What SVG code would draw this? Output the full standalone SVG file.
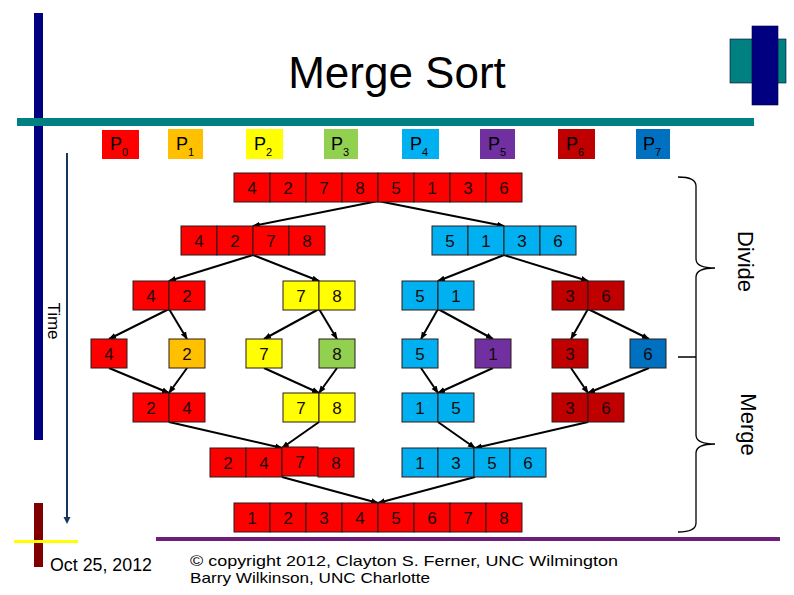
<svg xmlns="http://www.w3.org/2000/svg" width="794" height="595" viewBox="0 0 794 595">
<style>
text{font-family:"Liberation Sans",Arial,sans-serif;fill:#000}
.c{stroke:#2b1a1a;stroke-width:1}
.d{font-size:17px;text-anchor:middle;fill:#1a0a0a}
.r{fill:#FF0000}.o{fill:#FFC000}.y{fill:#FFFF00}.g{fill:#92D050}.lb{fill:#00B0F0}.pu{fill:#7030A0}.dr{fill:#C00000}.bl{fill:#0070C0}
.p{font-size:18px}.s{font-size:11px}
.cn{stroke:#000;stroke-width:2;fill:none;marker-end:url(#ah)}
.br{stroke:#000;stroke-width:1.3;fill:none}
</style>
<defs>
<marker id="ah" markerUnits="userSpaceOnUse" markerWidth="8" markerHeight="8" viewBox="0 0 8 8" refX="7" refY="4" orient="auto">
<path d="M0,1 L8,4 L0,7 Z" fill="#000"/>
</marker>
</defs>
<rect width="794" height="595" fill="#fff"/>
<!-- decorations -->
<g id="decor">
<rect x="34" y="13" width="9" height="427" fill="#000080"/>
<rect x="17" y="118" width="737" height="8" fill="#008080"/>
<rect x="730" y="39" width="56" height="44" fill="#008080" stroke="#003" stroke-width="0.6"/>
<rect x="752" y="26" width="26" height="79" fill="#000080" stroke="#003" stroke-width="0.6"/>
<rect x="34" y="503" width="9" height="64" fill="#800000"/>
<rect x="14" y="540" width="64" height="3" fill="#FFFF00"/>
<rect x="156" y="537" width="624" height="4" fill="#6E1E78"/>
</g>
<text x="397" y="88" font-size="44" text-anchor="middle">Merge Sort</text>
<!-- processor labels -->
<g id="P0"><rect x="102" y="130" width="37" height="29" class="r"/><text x="110" y="150" class="p">P</text><text x="122" y="156" class="s">0</text></g>
<g id="P1"><rect x="168" y="129" width="35" height="30" class="o"/><text x="176" y="150" class="p">P</text><text x="188" y="156" class="s">1</text></g>
<g id="P2"><rect x="246" y="129" width="37" height="30" class="y"/><text x="254" y="150" class="p">P</text><text x="266" y="156" class="s">2</text></g>
<g id="P3"><rect x="324" y="129" width="34" height="30" class="g"/><text x="331" y="150" class="p">P</text><text x="343" y="156" class="s">3</text></g>
<g id="P4"><rect x="402" y="129" width="37" height="30" class="lb"/><text x="410" y="150" class="p">P</text><text x="422" y="156" class="s">4</text></g>
<g id="P5"><rect x="480" y="129" width="35" height="30" class="pu"/><text x="488" y="150" class="p">P</text><text x="500" y="156" class="s">5</text></g>
<g id="P6"><rect x="558" y="129" width="37" height="30" class="dr"/><text x="566" y="150" class="p">P</text><text x="578" y="156" class="s">6</text></g>
<g id="P7"><rect x="636" y="129" width="34" height="30" class="bl"/><text x="643" y="150" class="p">P</text><text x="655" y="156" class="s">7</text></g>
<!-- connectors -->
<g id="connectors">
<line class="cn" x1="378" y1="201" x2="253" y2="226"/>
<line class="cn" x1="378" y1="201" x2="504" y2="226"/>
<line class="cn" x1="253" y1="255" x2="169" y2="281"/>
<line class="cn" x1="253" y1="255" x2="319" y2="281"/>
<line class="cn" x1="504" y1="255" x2="438" y2="281"/>
<line class="cn" x1="504" y1="255" x2="588" y2="281"/>
<line class="cn" x1="169" y1="309" x2="109" y2="339"/>
<line class="cn" x1="169" y1="309" x2="187" y2="339"/>
<line class="cn" x1="319" y1="309" x2="264" y2="339"/>
<line class="cn" x1="319" y1="309" x2="337" y2="339"/>
<line class="cn" x1="438" y1="309" x2="421" y2="339"/>
<line class="cn" x1="438" y1="309" x2="493" y2="339"/>
<line class="cn" x1="588" y1="309" x2="571" y2="339"/>
<line class="cn" x1="588" y1="309" x2="649" y2="339"/>
<line class="cn" x1="109" y1="368" x2="169" y2="393"/>
<line class="cn" x1="187" y1="368" x2="169" y2="393"/>
<line class="cn" x1="264" y1="368" x2="319" y2="393"/>
<line class="cn" x1="337" y1="368" x2="319" y2="393"/>
<line class="cn" x1="421" y1="368" x2="438" y2="393"/>
<line class="cn" x1="493" y1="368" x2="438" y2="393"/>
<line class="cn" x1="571" y1="368" x2="588" y2="393"/>
<line class="cn" x1="649" y1="368" x2="588" y2="393"/>
<line class="cn" x1="169" y1="422" x2="282" y2="448"/>
<line class="cn" x1="319" y1="422" x2="282" y2="448"/>
<line class="cn" x1="438" y1="422" x2="475" y2="448"/>
<line class="cn" x1="588" y1="422" x2="475" y2="448"/>
<line class="cn" x1="282" y1="477" x2="378" y2="503"/>
<line class="cn" x1="475" y1="477" x2="378" y2="503"/>
<line x1="67" y1="153" x2="67" y2="518" stroke="#17365D" stroke-width="2"/>
<path d="M63.5,517 L70.5,517 L67,524 Z" fill="#17365D"/>
</g>
<!-- row 1 -->
<g id="n1">
<rect x="234" y="173" width="36" height="29" class="c r"/><text x="252" y="194" class="d">4</text>
<rect x="270" y="173" width="36" height="29" class="c r"/><text x="288" y="194" class="d">2</text>
<rect x="306" y="173" width="36" height="29" class="c r"/><text x="324" y="194" class="d">7</text>
<rect x="342" y="173" width="36" height="29" class="c r"/><text x="360" y="194" class="d">8</text>
<rect x="378" y="173" width="36" height="29" class="c r"/><text x="396" y="194" class="d">5</text>
<rect x="414" y="173" width="36" height="29" class="c r"/><text x="432" y="194" class="d">1</text>
<rect x="450" y="173" width="36" height="29" class="c r"/><text x="468" y="194" class="d">3</text>
<rect x="486" y="173" width="36" height="29" class="c r"/><text x="504" y="194" class="d">6</text>
</g>
<!-- row 2 -->
<g id="n2a">
<rect x="181" y="226" width="36" height="29" class="c r"/><text x="199" y="247" class="d">4</text>
<rect x="217" y="226" width="36" height="29" class="c r"/><text x="235" y="247" class="d">2</text>
<rect x="253" y="226" width="36" height="29" class="c r"/><text x="271" y="247" class="d">7</text>
<rect x="289" y="226" width="36" height="29" class="c r"/><text x="307" y="247" class="d">8</text>
</g>
<g id="n2b">
<rect x="432" y="226" width="36" height="29" class="c lb"/><text x="450" y="247" class="d">5</text>
<rect x="468" y="226" width="36" height="29" class="c lb"/><text x="486" y="247" class="d">1</text>
<rect x="504" y="226" width="36" height="29" class="c lb"/><text x="522" y="247" class="d">3</text>
<rect x="540" y="226" width="36" height="29" class="c lb"/><text x="558" y="247" class="d">6</text>
</g>
<!-- row 3 -->
<g id="n3a"><rect x="133" y="281" width="36" height="29" class="c r"/><text x="151" y="302" class="d">4</text><rect x="169" y="281" width="36" height="29" class="c r"/><text x="187" y="302" class="d">2</text></g>
<g id="n3b"><rect x="283" y="281" width="36" height="29" class="c y"/><text x="301" y="302" class="d">7</text><rect x="319" y="281" width="36" height="29" class="c y"/><text x="337" y="302" class="d">8</text></g>
<g id="n3c"><rect x="402" y="281" width="36" height="29" class="c lb"/><text x="420" y="302" class="d">5</text><rect x="438" y="281" width="36" height="29" class="c lb"/><text x="456" y="302" class="d">1</text></g>
<g id="n3d"><rect x="552" y="281" width="36" height="29" class="c dr"/><text x="570" y="302" class="d">3</text><rect x="588" y="281" width="36" height="29" class="c dr"/><text x="606" y="302" class="d">6</text></g>
<!-- row 4 -->
<g id="n4a"><rect x="91" y="339" width="36" height="29" class="c r"/><text x="109" y="360" class="d">4</text></g>
<g id="n4b"><rect x="169" y="339" width="36" height="29" class="c o"/><text x="187" y="360" class="d">2</text></g>
<g id="n4c"><rect x="246" y="339" width="36" height="29" class="c y"/><text x="264" y="360" class="d">7</text></g>
<g id="n4d"><rect x="319" y="339" width="36" height="29" class="c g"/><text x="337" y="360" class="d">8</text></g>
<g id="n4e"><rect x="402" y="339" width="36" height="29" class="c lb"/><text x="420" y="360" class="d">5</text></g>
<g id="n4f"><rect x="475" y="339" width="36" height="29" class="c pu"/><text x="493" y="360" class="d">1</text></g>
<g id="n4g"><rect x="552" y="339" width="36" height="29" class="c dr"/><text x="570" y="360" class="d">3</text></g>
<g id="n4h"><rect x="630" y="339" width="36" height="29" class="c bl"/><text x="648" y="360" class="d">6</text></g>
<!-- row 5 -->
<g id="n5a"><rect x="133" y="393" width="36" height="29" class="c r"/><text x="151" y="414" class="d">2</text><rect x="169" y="393" width="36" height="29" class="c r"/><text x="187" y="414" class="d">4</text></g>
<g id="n5b"><rect x="283" y="393" width="36" height="29" class="c y"/><text x="301" y="414" class="d">7</text><rect x="319" y="393" width="36" height="29" class="c y"/><text x="337" y="414" class="d">8</text></g>
<g id="n5c"><rect x="402" y="393" width="36" height="29" class="c lb"/><text x="420" y="414" class="d">1</text><rect x="438" y="393" width="36" height="29" class="c lb"/><text x="456" y="414" class="d">5</text></g>
<g id="n5d"><rect x="552" y="393" width="36" height="29" class="c dr"/><text x="570" y="414" class="d">3</text><rect x="588" y="393" width="36" height="29" class="c dr"/><text x="606" y="414" class="d">6</text></g>
<!-- row 6 -->
<g id="n6a">
<rect x="210" y="448" width="36" height="29" class="c r"/><text x="228" y="469" class="d">2</text>
<rect x="246" y="448" width="36" height="29" class="c r"/><text x="264" y="469" class="d">4</text>
<rect x="282" y="447" width="36" height="29" class="c r"/><text x="300" y="468" class="d">7</text>
<rect x="318" y="448" width="36" height="29" class="c r"/><text x="336" y="469" class="d">8</text>
</g>
<g id="n6b">
<rect x="402" y="448" width="36" height="29" class="c lb"/><text x="420" y="469" class="d">1</text>
<rect x="438" y="448" width="36" height="29" class="c lb"/><text x="456" y="469" class="d">3</text>
<rect x="474" y="448" width="36" height="29" class="c lb"/><text x="492" y="469" class="d">5</text>
<rect x="510" y="448" width="36" height="29" class="c lb"/><text x="528" y="469" class="d">6</text>
</g>
<!-- row 7 -->
<g id="n7">
<rect x="234" y="503" width="36" height="29" class="c r"/><text x="252" y="524" class="d">1</text>
<rect x="270" y="503" width="36" height="29" class="c r"/><text x="288" y="524" class="d">2</text>
<rect x="306" y="503" width="36" height="29" class="c r"/><text x="324" y="524" class="d">3</text>
<rect x="342" y="503" width="36" height="29" class="c r"/><text x="360" y="524" class="d">4</text>
<rect x="378" y="503" width="36" height="29" class="c r"/><text x="396" y="524" class="d">5</text>
<rect x="414" y="503" width="36" height="29" class="c r"/><text x="432" y="524" class="d">6</text>
<rect x="450" y="503" width="36" height="29" class="c r"/><text x="468" y="524" class="d">7</text>
<rect x="486" y="503" width="36" height="29" class="c r"/><text x="504" y="524" class="d">8</text>
</g>
<!-- braces -->
<g id="braces">
<path class="br" d="M678,177 Q696,177 696,186 L696,259 Q696,268 715,268 Q696,268 696,277 L696,357 M678,357 L696,357 L696,435 Q696,444 715,444 Q696,444 696,453 L696,523 Q696,532 678,532"/>
</g>
<text transform="translate(738,261.5) rotate(90)" font-size="22" text-anchor="middle">Divide</text>
<text transform="translate(741,424.5) rotate(90)" font-size="22" text-anchor="middle">Merge</text>
<text transform="translate(48,321) rotate(90)" font-size="17" text-anchor="middle">Time</text>
<!-- footer -->
<text x="50" y="571" font-size="18" textLength="102" lengthAdjust="spacingAndGlyphs">Oct 25, 2012</text>
<text x="190" y="566" font-size="15" textLength="428" lengthAdjust="spacingAndGlyphs">© copyright 2012, Clayton S. Ferner, UNC Wilmington</text>
<text x="190" y="583" font-size="15" textLength="240" lengthAdjust="spacingAndGlyphs">Barry Wilkinson, UNC Charlotte</text>
</svg>
